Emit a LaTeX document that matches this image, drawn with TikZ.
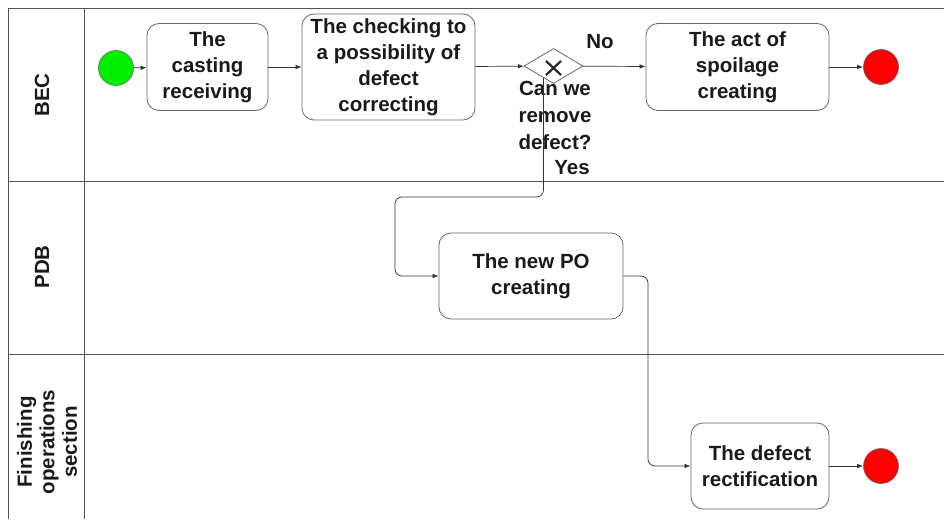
\documentclass[tikz,border=0pt]{standalone}
\usepackage{fontspec}
\setmainfont{Liberation Sans}
\usetikzlibrary{shapes.geometric,arrows.meta,calc}
\definecolor{lanec}{HTML}{555555}
\definecolor{boxc}{HTML}{666666}
\definecolor{txt}{HTML}{1A1A1A}
\definecolor{startg}{HTML}{00EE00}
\definecolor{endr}{HTML}{FF0000}
\begin{document}
\begin{tikzpicture}[x=1pt,y=-1pt,
  task/.style={draw=boxc, rounded corners=12pt, fill=white, line width=0.8pt,
    font=\fontsize{20.5}{26}\selectfont\bfseries, text=txt, align=center, inner sep=0pt},
  lbl/.style={font=\fontsize{20.5}{27}\selectfont\bfseries, text=txt, align=center, inner sep=0pt},
  lanelbl/.style={font=\fontsize{20.5}{22.5}\selectfont\bfseries, text=txt, align=center, inner sep=0pt, rotate=90},
  startev/.style={circle, draw=black!60, fill=startg, minimum size=35pt, inner sep=0pt, line width=0.6pt},
  endev/.style={circle, draw=black!60, fill=endr, minimum size=35pt, inner sep=0pt, line width=0.6pt},
  gate/.style={diamond, draw=boxc, fill=white, minimum width=59pt, minimum height=35pt, inner sep=0pt, line width=0.8pt},
  flow/.style={draw=black!80, line width=0.7pt, -{Latex[length=6pt,width=4.5pt]}},
  lane/.style={draw=lanec, line width=0.8pt}
]
\useasboundingbox (0,0) rectangle (944,519);
% pool and lanes
\draw[lane] (944,8) -- (8,8) -- (8,519);
\draw[lane] (84,8) -- (84,519);
\draw[lane] (8,181) -- (944,181);
\draw[lane] (8,354) -- (944,354);
\node[lanelbl] (lBEC) at (42,95) {BEC};
\node[lanelbl] (lPDB) at (42,267) {PDB};
\node[lanelbl] (lFIN) at (47,442) {Finishing\\operations\\section};
% nodes
\node[startev] (start) at (116,68) {};
\node[task, minimum width=121pt, minimum height=87pt] (t1) at (207.5,67) {The\\casting\\receiving};
\node[task, minimum width=173pt, minimum height=106pt] (t2) at (388.5,67) {The checking to\\a possibility of\\defect\\correcting};
\node[gate] (gw) at (553.5,66) {};
\draw[line width=2.2pt, black!85] ($(gw.center)+(-7.5,-5)$) -- ($(gw.center)+(7.5,9)$);
\draw[line width=2.2pt, black!85] ($(gw.center)+(-7.5,9)$) -- ($(gw.center)+(7.5,-5)$);
\node[task, minimum width=183pt, minimum height=87pt] (t3) at (737.5,67) {The act of\\spoilage\\creating};
\node[endev] (end1) at (881,67) {};
\node[task, minimum width=184pt, minimum height=86pt] (t4) at (531,276) {The new PO\\creating};
\node[task, minimum width=138pt, minimum height=86pt] (t5) at (760,466) {The defect\\rectification};
\node[endev] (end2) at (881,466) {};
% labels
\node[lbl] (no) at (600,42) {No};
\node[lbl] (q) at (555,115) {Can we\\remove\\defect?};
\node[lbl] (yes) at (572,168) {Yes};
% coordinates for bends
\coordinate (b1) at (395,197);
\coordinate (b2) at (648,466);
% flows
\draw[flow] (start) -- (t1);
\draw[flow] (t1) -- (t2);
\draw[flow] (t2) -- (gw);
\draw[flow] (gw) -- (t3);
\draw[flow] (t3) -- (end1);
\draw[flow, rounded corners=7pt] ([xshift=-10pt,yshift=6pt]gw.south) |- (b1) |- (t4.west);
\draw[flow, rounded corners=7pt] (t4.east) -| (b2) -- (t5.west);
\draw[flow] (t5) -- (end2);
\end{tikzpicture}
\end{document}
